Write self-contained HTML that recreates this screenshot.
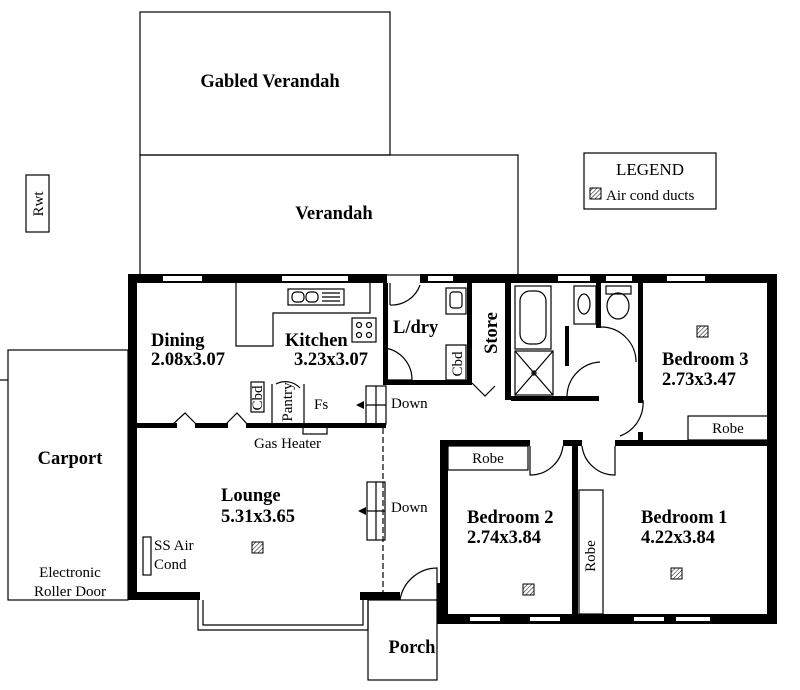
<!DOCTYPE html>
<html><head><style>
body{margin:0;background:#fff}
svg{display:block}
text{font-family:"Liberation Serif",serif;fill:#000}
.b{font-weight:bold;font-size:18.5px}
.s{font-size:15px}
</style></head><body>
<svg width="800" height="690" viewBox="0 0 800 690" xmlns="http://www.w3.org/2000/svg">
<defs><pattern id="h" width="3" height="3" patternUnits="userSpaceOnUse" patternTransform="rotate(45)"><rect width="3" height="3" fill="#fff"/><line x1="0" y1="0" x2="0" y2="3" stroke="#000" stroke-width="1"/></pattern></defs>
<g fill="none" stroke="#000" stroke-width="1.2">
<rect x="140" y="12" width="250" height="143"/>
<rect x="140" y="155" width="378" height="120"/>
<rect x="26" y="175" width="23" height="57"/>
<rect x="584" y="153" width="132" height="56"/>
<rect x="8" y="350" width="120" height="250"/>
<polyline points="236,283 236,346 273,346 273,313 370,313 370,283"/>
<rect x="288" y="289" width="56" height="16"/>
<rect x="352" y="318" width="24" height="24"/>
<circle cx="359" cy="325" r="2.5"/><circle cx="369" cy="325" r="2.5"/><circle cx="359" cy="335" r="2.5"/><circle cx="369" cy="335" r="2.5"/>
<rect x="292" y="292" width="12" height="10" rx="4"/><rect x="306" y="292" width="12" height="10" rx="4"/>
<line x1="322" y1="293" x2="340" y2="293"/><line x1="322" y1="297" x2="340" y2="297"/><line x1="322" y1="301" x2="340" y2="301"/>
<path d="M385,348 A32,32 0 0 1 412,380 L385,380"/>
<rect x="251" y="382" width="13" height="30"/>
<path d="M272,384 L272,425 M304,384 L304,425"/>
<path d="M276,384 A20,20 0 0 1 300,388"/>
<rect x="303" y="425" width="24" height="9"/>
<rect x="366" y="386" width="20" height="38"/><line x1="376" y1="386" x2="376" y2="424"/><line x1="366" y1="405" x2="386" y2="405"/>
<rect x="367" y="482" width="18" height="58"/><line x1="376" y1="482" x2="376" y2="540"/><line x1="367" y1="511" x2="385" y2="511"/>
<line x1="383" y1="428" x2="383" y2="592" stroke-dasharray="6,3"/>
<polyline points="172,425 185,413 197,425"/><polyline points="225,425 237,413 248,425"/>
<path d="M390,305 A30,30 0 0 0 420,285"/>
<line x1="390" y1="305" x2="390" y2="283"/>
<rect x="446" y="288" width="20" height="26"/><rect x="450" y="292" width="12" height="16" rx="3"/>
<rect x="446" y="345" width="20" height="35"/>
<polyline points="472,383 485,396 495,386"/>
<rect x="515" y="286" width="36" height="63"/><rect x="520" y="291" width="26" height="53" rx="10"/>
<rect x="515" y="351" width="38" height="44"/><line x1="515" y1="351" x2="553" y2="395"/><line x1="553" y1="351" x2="515" y2="395"/><circle cx="534" cy="373" r="2"/>
<rect x="574" y="286" width="22" height="38"/><ellipse cx="584" cy="304" rx="6" ry="10"/>
<rect x="606" y="286" width="25" height="8"/><ellipse cx="618" cy="306" rx="11" ry="13"/>
<path d="M601,327 A35,35 0 0 1 636,362"/><path d="M567,396 A35,35 0 0 1 600,362"/>
<path d="M643,400 A35,35 0 0 1 620,436"/>
<rect x="688" y="416" width="80" height="24"/>
<path d="M530,446 L530,475 A33,33 0 0 0 563,446"/>
<path d="M582,446 A33,33 0 0 0 615,475 L615,446"/>
<rect x="448" y="446" width="80" height="24"/>
<rect x="579" y="490" width="24" height="124"/>
<rect x="143" y="537" width="8" height="38"/>
<polyline points="198,600 198,630 368,630 368,600"/><polyline points="203,600 203,625 363,625 363,600"/>
<rect x="368" y="600" width="69" height="80"/>
<path d="M400,600 A38,38 0 0 1 437,568 L437,600"/>
<line x1="0" y1="380" x2="8" y2="380"/>
</g>
<g fill="#000">
<rect x="128" y="274" width="259" height="9"/>
<rect x="420" y="274" width="357" height="9"/>
<rect x="128" y="274" width="9" height="326"/>
<rect x="128" y="592" width="72" height="8"/>
<rect x="360" y="592" width="40" height="8"/>
<rect x="767" y="274" width="10" height="350"/>
<rect x="437" y="614" width="340" height="10"/>
<rect x="437" y="583" width="8" height="41"/>
<rect x="440" y="440" width="8" height="184"/>
<rect x="440" y="440" width="90" height="6"/>
<rect x="572" y="440" width="6" height="184"/>
<rect x="563" y="440" width="19" height="6"/>
<rect x="615" y="440" width="162" height="6"/>
<rect x="383" y="283" width="5" height="100"/>
<rect x="383" y="380" width="89" height="5"/>
<rect x="467" y="283" width="5" height="102"/>
<rect x="505" y="283" width="6" height="117"/>
<rect x="511" y="396" width="88" height="5"/>
<rect x="596" y="283" width="5" height="45"/>
<rect x="638" y="283" width="5" height="120"/>
<rect x="638" y="432" width="5" height="10"/>
<rect x="137" y="423" width="40" height="5"/><rect x="195" y="423" width="33" height="5"/><rect x="246" y="423" width="140" height="5"/>
<rect x="565" y="326" width="4" height="40"/>
<path d="M356,405 l8,-4 v8 z"/><path d="M358,511 l8,-4 v8 z"/>
</g>
<g fill="#fff">
<rect x="163" y="276" width="39" height="5"/><rect x="282" y="276" width="66" height="5"/>
<rect x="428" y="276" width="25" height="5"/><rect x="558" y="276" width="32" height="5"/><rect x="606" y="276" width="26" height="5"/><rect x="667" y="276" width="38" height="5"/>
<rect x="470" y="617" width="30" height="4"/><rect x="530" y="617" width="30" height="4"/><rect x="634" y="617" width="30" height="4"/><rect x="676" y="617" width="34" height="4"/>
</g>
<g fill="url(#h)" stroke="#000">
<rect x="590" y="188" width="11" height="11"/>
<rect x="697" y="326" width="11" height="11"/><rect x="252" y="542" width="11" height="11"/><rect x="523" y="584" width="11" height="11"/><rect x="671" y="568" width="11" height="11"/>
</g>
<text class="b" x="270" y="87" text-anchor="middle">Gabled Verandah</text>
<text class="b" x="334" y="219" text-anchor="middle">Verandah</text>
<text class="s" x="38" y="204" text-anchor="middle" transform="rotate(-90 38 204)" dy="5">Rwt</text>
<text x="650" y="175" text-anchor="middle" font-size="17">LEGEND</text>
<text class="s" x="606" y="200">Air cond ducts</text>
<text class="b" x="70" y="464" text-anchor="middle">Carport</text>
<text class="s" x="70" y="577" text-anchor="middle">Electronic</text>
<text class="s" x="70" y="596" text-anchor="middle">Roller Door</text>
<text class="b" x="151" y="346">Dining</text><text class="b" x="151" y="365">2.08x3.07</text>
<text class="b" x="285" y="346">Kitchen</text><text class="b" x="294" y="365">3.23x3.07</text>
<text class="b" x="393" y="333">L/dry</text>
<text class="b" x="492" y="333" transform="rotate(-90 492 333)" text-anchor="middle" dy="5">Store</text>
<text class="s" x="458" y="364" transform="rotate(-90 458 364)" text-anchor="middle" dy="4">Cbd</text>
<text class="s" x="258" y="398" transform="rotate(-90 258 398)" text-anchor="middle" dy="4">Cbd</text>
<text class="s" x="288" y="402" transform="rotate(-90 288 402)" text-anchor="middle" dy="4">Pantry</text>
<text class="s" x="314" y="409">Fs</text>
<text class="s" x="391" y="408">Down</text>
<text class="s" x="391" y="512">Down</text>
<text class="s" x="254" y="448">Gas Heater</text>
<text class="b" x="662" y="365">Bedroom 3</text><text class="b" x="662" y="385">2.73x3.47</text>
<text class="s" x="728" y="433" text-anchor="middle">Robe</text>
<text class="s" x="488" y="463" text-anchor="middle">Robe</text>
<text class="b" x="221" y="501">Lounge</text><text class="b" x="221" y="522">5.31x3.65</text>
<text class="s" x="154" y="550">SS Air</text><text class="s" x="154" y="569">Cond</text>
<text class="b" x="467" y="523">Bedroom 2</text><text class="b" x="467" y="543">2.74x3.84</text>
<text class="b" x="641" y="523">Bedroom 1</text><text class="b" x="641" y="543">4.22x3.84</text>
<text class="s" x="591" y="556" transform="rotate(-90 591 556)" text-anchor="middle" dy="4">Robe</text>
<text class="b" x="412" y="653" text-anchor="middle">Porch</text>
</svg>
</body></html>
